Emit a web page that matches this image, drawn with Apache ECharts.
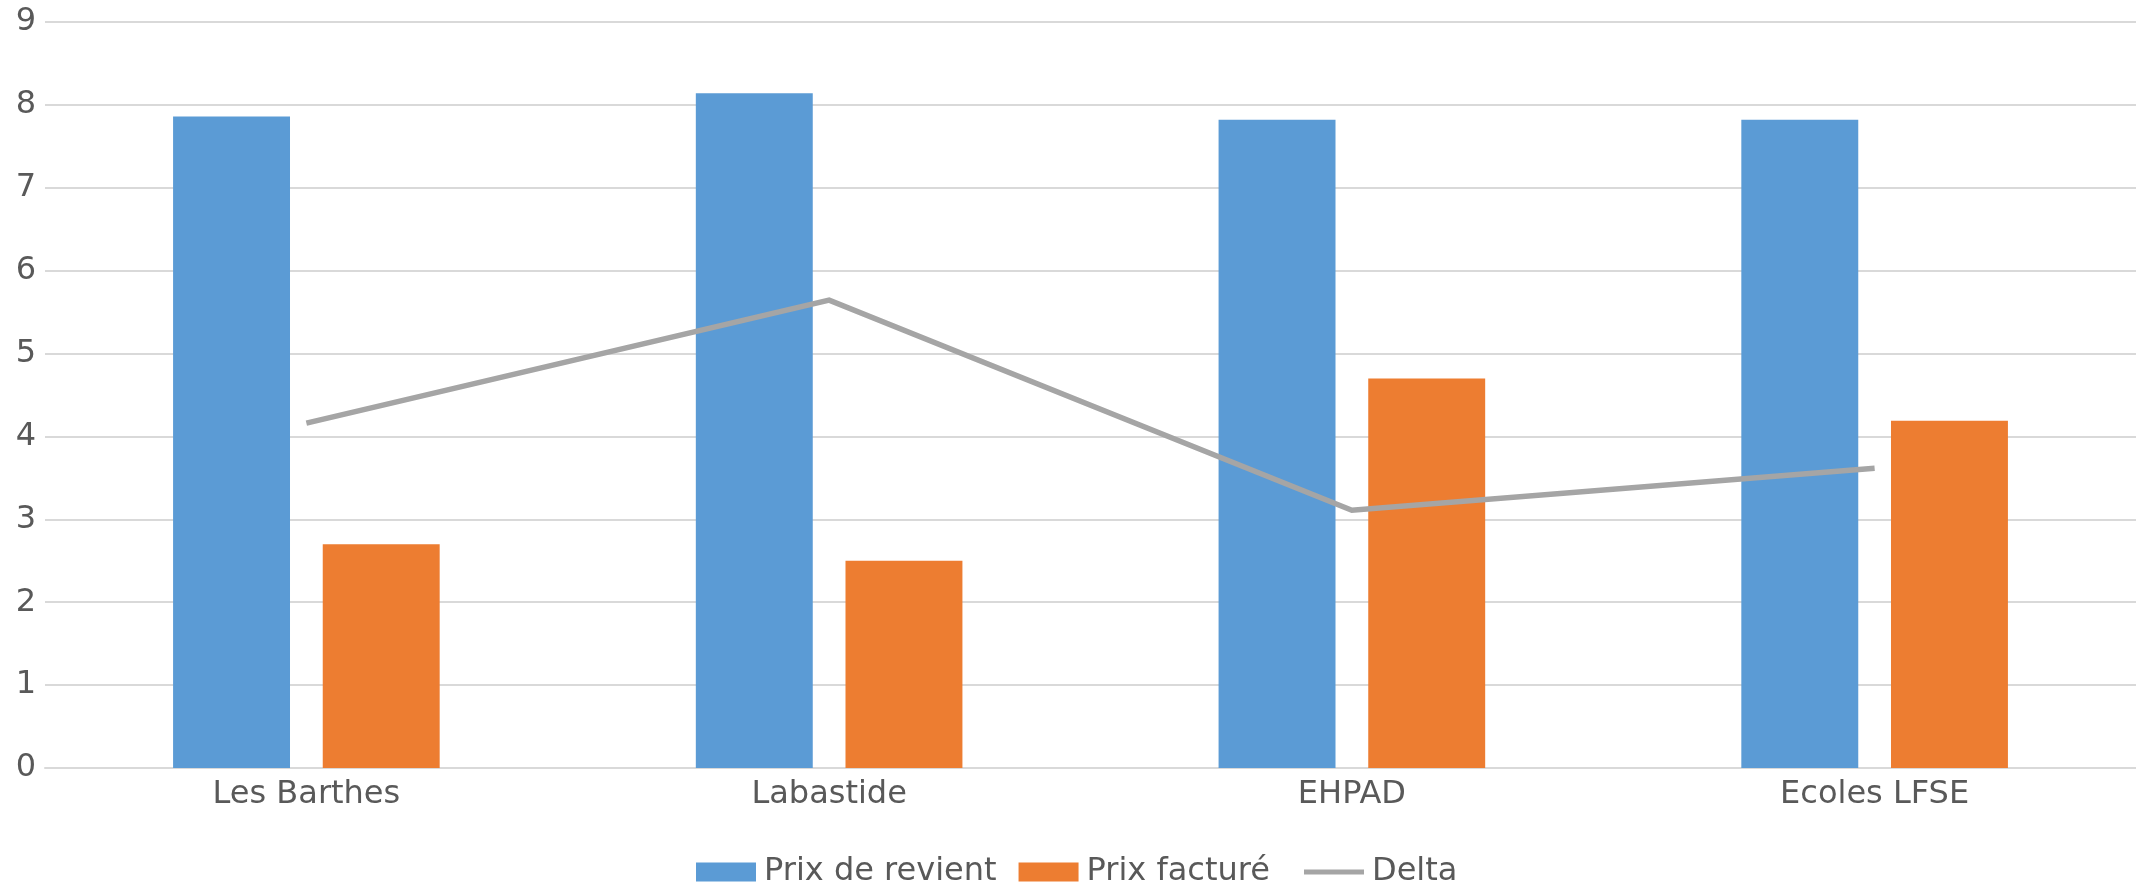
<!DOCTYPE html>
<html>
<head>
<meta charset="utf-8">
<script src="https://cdn.jsdelivr.net/npm/echarts@6/dist/echarts.min.js"></script>
<style>
html,body{margin:0;padding:0;background:#fff;}
#chart{width:2136px;height:889px;}
</style>
</head>
<body>
<div id="chart"></div>
<script>
const categories = ['Les Barthes', 'Labastide', 'EHPAD', 'Ecoles LFSE'];
const prixRevient = [7.86, 8.14, 7.82, 7.82];
const prixFacture = [2.70, 2.50, 4.70, 4.19];
const delta = [4.16, 5.645, 3.11, 3.615];
const yTicks = { min: 0, max: 9, interval: 1 };

const FONT = 'DejaVu Sans';
const TXT = '#595959';
const GRID = '#d9d9d9';

const legendBase = {
  top: 856,
  padding: 0,
  itemWidth: 60,
  itemHeight: 19,
  itemGap: 22,
  textStyle: { fontFamily: FONT, fontSize: 32, color: TXT, padding: [0, 0, 0, 3] }
};

const chart = echarts.init(document.getElementById('chart'), null, { renderer: 'canvas' });
chart.setOption({
  animation: false,
  backgroundColor: '#ffffff',
  textStyle: { fontFamily: FONT },
  grid: { left: 45, right: 0, top: 22, bottom: 121, containLabel: false },
  legend: [
    Object.assign({}, legendBase, {
      left: 696,
      data: [
        { name: 'Prix de revient', icon: 'rect' },
        { name: 'Prix facturé', icon: 'rect' }
      ]
    }),
    Object.assign({}, legendBase, {
      left: 1304,
      data: [
        { name: 'Delta', icon: 'path://M0,0 L0,0 M0,7 L60,7 L60,12 L0,12 Z M60,19 L60,19', itemStyle: { color: '#a5a5a5' } }
      ]
    })
  ],
  xAxis: {
    type: 'category',
    data: categories,
    axisLine: { show: true, lineStyle: { color: GRID, width: 2 } },
    axisTick: { show: false },
    axisLabel: { fontFamily: FONT, fontSize: 32, color: TXT, margin: 11 },
    splitLine: { show: false }
  },
  yAxis: {
    type: 'value',
    min: yTicks.min,
    max: yTicks.max,
    interval: yTicks.interval,
    axisLine: { show: false },
    axisTick: { show: false },
    axisLabel: { fontFamily: FONT, fontSize: 32, color: TXT, margin: 9 },
    splitLine: { show: true, lineStyle: { color: GRID, width: 2 } }
  },
  series: [
    {
      name: 'Prix de revient',
      type: 'bar',
      data: prixRevient,
      barGap: '28%',
      barCategoryGap: '49%',
      itemStyle: { color: '#5b9bd5' }
    },
    {
      name: 'Prix facturé',
      type: 'bar',
      data: prixFacture,
      itemStyle: { color: '#ed7d31' }
    },
    {
      name: 'Delta',
      type: 'line',
      data: delta,
      symbol: 'none',
      showSymbol: false,
      z: 5,
      itemStyle: { color: '#a5a5a5' },
      lineStyle: { color: '#a5a5a5', width: 5.5, cap: 'butt', join: 'miter' }
    }
  ]
});
</script>
</body>
</html>
